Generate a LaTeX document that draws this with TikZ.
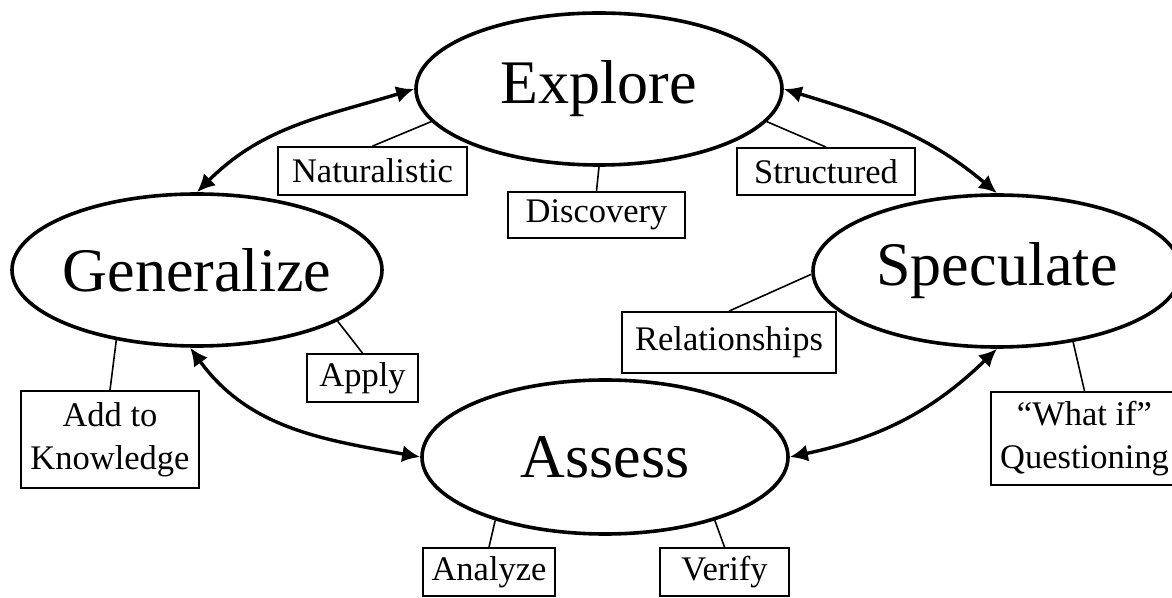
\documentclass[tikz,border=0pt]{standalone}
\usepackage{fontspec}
\setmainfont{Liberation Serif}
\usetikzlibrary{shapes.geometric,arrows.meta}

\begin{document}
\begin{tikzpicture}[x=0.5pt,y=-0.5pt,
  stage/.style={draw,ellipse,line width=1.8pt,inner sep=0pt,
    minimum width=183pt,minimum height=76pt,font=\fontsize{31}{37}\selectfont},
  tag/.style={draw,line width=0.9pt,inner sep=0pt,align=center,
    minimum height=24pt,font=\fontsize{17.25}{21.5}\selectfont},
  link/.style={line width=0.8pt},
  flow/.style={line width=1.7pt,{Latex[length=9pt,width=8.5pt]}-{Latex[length=9pt,width=8.5pt]}}]
  \useasboundingbox (0,0) rectangle (1172,598);
  % the four stages
  \node[stage] (explore) at (599,89) {\makebox[0pt]{Explore}};
  \node[stage,minimum width=185pt] (generalize) at (197,270) {\makebox[0pt]{Generalize}};
  \node[stage,minimum width=184pt] (speculate) at (997,271) {\makebox[0pt]{Speculate}};
  \node[stage,minimum height=77pt] (assess) at (605,457) {\makebox[0pt]{Assess}};
  % the cycle
  \draw[flow] (explore.west) to[out=197,in=45] (generalize.north);
  \draw[flow] (explore.east) to[out=-17,in=140] (speculate.north);
  \draw[flow] (generalize.265) to[out=-54,in=170] (assess.west);
  \draw[flow] (speculate.south) to[out=224,in=12] (assess.east);
  % the boxes
  \node[tag,minimum width=94.5pt] (natural) at (372.5,171) {Naturalistic};
  \node[tag,minimum width=88.5pt,minimum height=23pt] (discovery) at (596.5,215) {Discovery};
  \node[tag,minimum width=89pt,minimum height=23.5pt] (structured) at (826,171.5) {Structured};
  \node[tag,minimum width=107pt,minimum height=30.5pt] (relations) at (729,342.5) {Relationships};
  \node[tag,minimum width=55.5pt] (apply) at (362.5,378) {Apply};
  \node[tag,minimum width=89pt,minimum height=48.5pt] (knowledge) at (110,439.5) {Add to\\Knowledge};
  \node[tag,minimum width=93.5pt,minimum height=46.5pt] (whatif) at (1084.5,438.5) {“What if”\\Questioning};
  \node[tag,minimum width=66pt] (analyze) at (489,572) {Analyze};
  \node[tag,minimum width=64.5pt] (verify) at (724.5,572) {Verify};
  % box links
  \draw[link] (natural.north) -- (explore.191.5);
  \draw[link] (discovery.north) -- (explore.south);
  \draw[link] (structured.north) -- (explore.349);
  \draw[link] (relations.north) -- (speculate.181);
  \draw[link] (apply.north) -- (generalize.340);
  \draw[link] (knowledge.north) -- (generalize.221);
  \draw[link] (whatif.north) -- (speculate.317);
  \draw[link] (analyze.north) -- (assess.210);
  \draw[link] (verify.north) -- (assess.330);
\end{tikzpicture}
\end{document}
